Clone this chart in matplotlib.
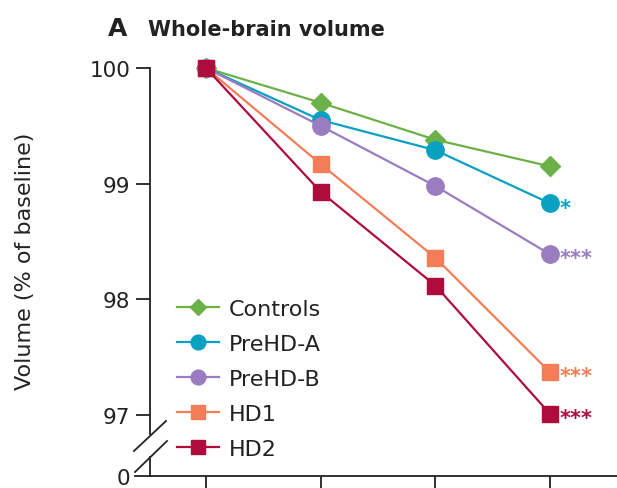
import matplotlib
matplotlib.use("Agg")
import matplotlib.pyplot as plt
from matplotlib.lines import Line2D

plt.rcParams['font.family'] = ['DejaVu Sans']

# scan visits
visits = [0, 1, 2, 3]

# whole-brain volume, % of baseline
controls = [100.0, 99.70, 99.38, 99.15]
prehd_a = [100.0, 99.55, 99.29, 98.83]
prehd_b = [100.0, 99.50, 98.98, 98.39]
hd1 = [100.0, 99.17, 98.36, 97.37]
hd2 = [100.0, 98.93, 98.12, 97.01]

groups = ['Controls', 'PreHD-A', 'PreHD-B', 'HD1', 'HD2']
series = [controls, prehd_a, prehd_b, hd1, hd2]
colors = ['#6cb147', '#0aa0c2', '#9a7cc0', '#f27d57', '#ad0c3c']
markers = ['D', 'o', 'o', 's', 's']
msizes = [10, 12.5, 12.5, 11.5, 11.5]
stars = ['', '*', '***', '***', '***']

W, H = 617, 489
INK = '#222222'
fig = plt.figure(figsize=(W / 100, H / 100), dpi=100)
ax = fig.add_axes([150 / W, 1 - 477 / H, 1 - 150 / W, (477 - 69) / H])

ybot = 100 - (477 - 69) / 115.7
ax.set_ylim(ybot, 100)
ax.set_xlim(-0.488, 3.584)

for name, vals, c, m, ms, st in zip(groups, series, colors, markers, msizes, stars):
    ax.plot(visits, vals, color=c, lw=1.6, marker=m, ms=ms, mec=c, mfc=c,
            label=name, clip_on=False, zorder=3)
    if st:
        ax.annotate(st, (visits[-1], vals[-1]), xytext=(7, -3), textcoords='offset points',
                    color=c, fontsize=15, fontweight='bold', va='center', ha='left')

# y axis with a break between 0 and 97
ax.set_yticks([ybot, 97, 98, 99, 100])
ax.set_yticklabels(['0', '97', '98', '99', '100'])
ax.yaxis.get_major_ticks()[0].tick1line.set_visible(False)
ax.set_xticks(visits)
ax.set_xticklabels([])
ax.tick_params(axis='both', direction='out', length=10, width=1.3, color=INK,
               labelsize=15.5, pad=4, labelcolor=INK)
for s in ['top', 'right']:
    ax.spines[s].set_visible(False)
for s in ['left', 'bottom']:
    ax.spines[s].set_linewidth(1.3)
    ax.spines[s].set_color(INK)
ax.spines['left'].set_bounds(100 - (435 - 69) / 115.7, 100)
ax.plot([-0.488, -0.488], [ybot, 100 - (458 - 69) / 115.7], color=INK, lw=1.3,
        clip_on=False, zorder=4)

# break marks
for (x0, y0, x1, y1) in [(134, 452, 166, 422), (135, 473, 167, 442)]:
    fig.add_artist(Line2D([x0 / W, x1 / W], [1 - y0 / H, 1 - y1 / H], color=INK, lw=1.3))
fig.add_artist(Line2D([135 / W, 150 / W], [1 - 477 / H, 1 - 477 / H], color=INK, lw=1.3))

ax.set_ylabel('Volume (% of baseline)', fontsize=16, color=INK)
ax.yaxis.set_label_coords(35 / W, 1 - 261 / H, transform=fig.transFigure)

handles, labels = ax.get_legend_handles_labels()
leg = ax.legend(handles, labels, loc='upper left',
                bbox_to_anchor=(177 / W, 1 - 300 / H), bbox_transform=fig.transFigure,
                frameon=False, fontsize=16, handlelength=1.9, handletextpad=0.45,
                labelspacing=0.67, borderpad=0, borderaxespad=0, markerscale=0.85)
for t in leg.get_texts():
    t.set_color(INK)

fig.text(108 / W, 1 - 29 / H, 'A', fontsize=18, fontweight='bold', va='center', ha='left',
         color=INK)
fig.text(148 / W, 1 - 30 / H, 'Whole-brain volume', fontsize=15, fontweight='bold',
         va='center', ha='left', color=INK)

fig.savefig('out.png', dpi=100)
